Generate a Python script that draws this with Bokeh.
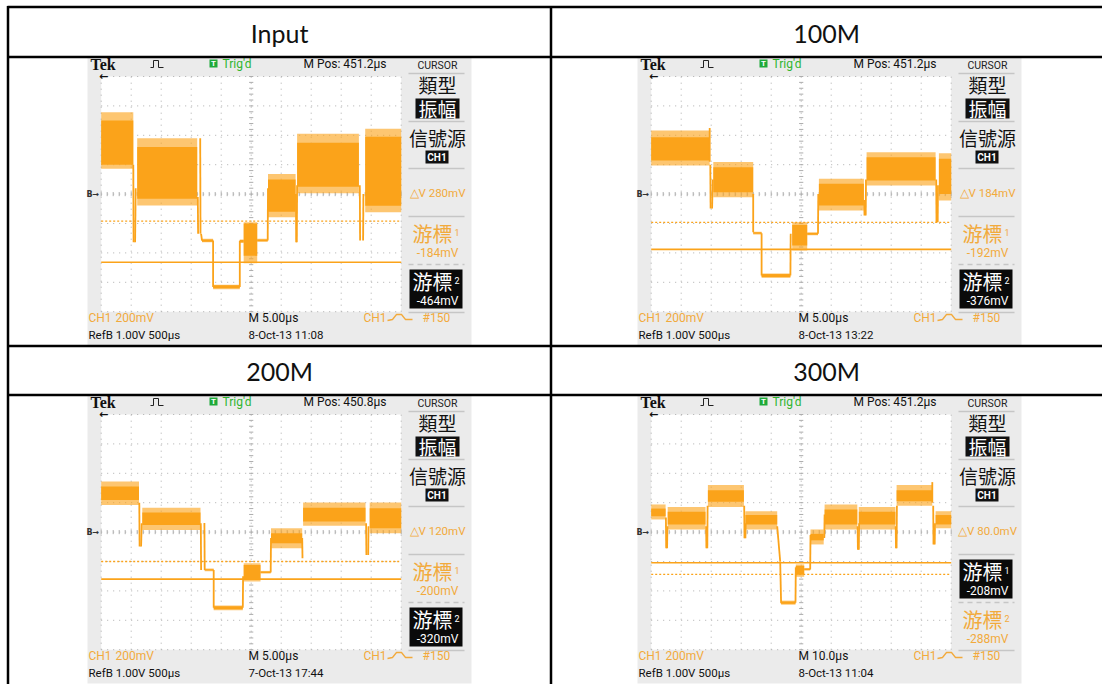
import numpy as np
from bokeh.plotting import figure
from bokeh.models import Range1d
from bokeh.core.properties import value
from bokeh.embed import file_html
from bokeh.resources import INLINE

# ---------------- data ----------------
headers = ["Input", "100M", "200M", "300M"]
m_pos = ["451.2µs", "451.2µs", "450.8µs", "451.2µs"]
delta_v = ["280mV", "184mV", "120mV", "80.0mV"]
cursor1_mv = [-184, -192, -200, -208]
cursor2_mv = [-464, -376, -320, -288]
active_cursor = [2, 2, 2, 1]
ch1_mv_per_div = 200
time_base = ["5.00µs", "5.00µs", "5.00µs", "10.0µs"]
timestamps = ["8-Oct-13 11:08", "8-Oct-13 13:22", "7-Oct-13 17:44", "8-Oct-13 11:04"]
trigger_count = "#150"
ref_info = "RefB 1.00V 500µs"

# waveform bands in graticule divisions:
# (t start, t end, outer low, dense low, dense high, outer high)
input_bands = [
    (0.00, 1.07, 0.86, 1.00, 2.50, 2.78),
    (1.20, 3.20, -0.39, -0.16, 1.60, 1.90),
    (3.36, 3.73, -1.64, -1.62, -1.54, -1.52),
    (3.73, 4.62, -3.24, -3.20, -3.10, -3.08),
    (4.62, 4.75, -1.66, -1.64, -1.56, -1.54),
    (4.75, 5.20, -2.35, -2.10, -1.00, -0.96),
    (5.20, 5.55, -1.62, -1.60, -1.54, -1.52),
    (5.56, 6.48, -0.79, -0.60, 0.50, 0.68),
    (6.53, 8.59, 0.03, 0.25, 1.75, 2.05),
    (8.80, 10.0, -0.62, -0.40, 1.95, 2.22),
]
m100_bands = [
    (0.00, 1.95, 0.97, 1.14, 1.93, 2.16),
    (2.07, 3.40, -0.11, 0.06, 0.91, 1.09),
    (3.40, 3.68, -1.37, -1.35, -1.30, -1.28),
    (3.68, 4.64, -2.85, -2.82, -2.72, -2.70),
    (4.70, 5.20, -1.92, -1.75, -1.05, -0.96),
    (5.20, 5.56, -1.40, -1.38, -1.32, -1.30),
    (5.59, 7.09, -0.56, -0.39, 0.35, 0.52),
    (7.18, 9.48, 0.29, 0.46, 1.25, 1.42),
    (9.59, 10.0, -0.22, 0.00, 1.20, 1.39),
]
m200_bands = [
    (0.00, 1.26, 0.92, 1.09, 1.55, 1.72),
    (1.37, 3.31, 0.07, 0.24, 0.67, 0.83),
    (3.45, 3.75, -1.33, -1.31, -1.26, -1.24),
    (3.75, 4.72, -2.66, -2.62, -2.52, -2.50),
    (4.75, 5.31, -1.68, -1.60, -1.12, -1.06),
    (5.31, 5.65, -1.41, -1.39, -1.34, -1.32),
    (5.66, 6.70, -0.55, -0.38, -0.04, 0.13),
    (6.73, 8.81, 0.22, 0.36, 0.83, 1.01),
    (8.95, 10.0, -0.04, 0.13, 0.81, 1.01),
]
m300_bands = [
    (0.00, 0.48, 0.43, 0.54, 0.80, 0.94),
    (0.55, 1.81, 0.09, 0.26, 0.69, 0.85),
    (1.89, 3.09, 0.85, 1.03, 1.42, 1.60),
    (3.14, 4.20, 0.09, 0.26, 0.58, 0.71),
    (4.33, 4.81, -2.47, -2.44, -2.36, -2.33),
    (4.82, 5.10, -1.52, -1.45, -1.15, -1.10),
    (5.10, 5.30, -1.31, -1.29, -1.24, -1.22),
    (5.31, 5.75, -0.42, -0.28, -0.06, 0.09),
    (5.78, 6.87, 0.09, 0.26, 0.77, 0.94),
    (6.92, 8.14, 0.09, 0.26, 0.69, 0.85),
    (8.18, 9.37, 0.90, 1.05, 1.42, 1.60),
    (9.48, 10.0, 0.13, 0.26, 0.58, 0.71),
]
# transitions and spikes: (t0, v0, t1, v1) in divisions
input_edges = [
    (1.07, 1.0, 1.08, -1.64), (1.13, -1.64, 1.15, 0.2), (3.22, -0.1, 3.23, -1.35),
    (3.30, 1.9, 3.31, -1.35), (3.33, -1.35, 3.36, -1.58), (3.73, -1.58, 3.73, -3.16),
    (4.62, -3.16, 4.62, -1.59), (5.55, -1.58, 5.56, 0.2), (6.49, 0.0, 6.50, -1.64),
    (6.52, -1.64, 6.53, 0.3), (8.62, 0.3, 8.63, -1.58), (8.73, -1.58, 8.74, 0.0),
]
m100_edges = [
    (1.95, 1.1, 1.95, 2.25), (1.97, 1.0, 1.98, -0.49), (2.03, -0.49, 2.05, 0.5),
    (3.40, 0.0, 3.40, -1.30), (3.68, -1.33, 3.68, -2.77), (4.64, -2.77, 4.65, -1.35),
    (5.56, -1.35, 5.57, 0.0), (7.10, -0.2, 7.11, -0.73), (7.15, -0.73, 7.16, 0.5),
    (9.50, 0.5, 9.51, -0.96), (9.55, -0.96, 9.56, 0.3),
]
m200_edges = [
    (1.27, 1.0, 1.28, -0.49), (1.33, -0.49, 1.35, 0.3), (3.32, 0.3, 3.33, -1.29),
    (3.44, 0.31, 3.45, -1.29), (3.75, -1.29, 3.75, -2.57), (4.72, -2.57, 4.73, -1.5),
    (5.65, -1.37, 5.66, -0.2), (6.70, -0.2, 6.71, -0.89), (8.83, 0.3, 8.84, -0.78),
    (8.90, -0.78, 8.91, 0.2),
]
m300_edges = [
    (0.49, 0.5, 0.50, -0.55), (0.53, -0.55, 0.54, 0.2), (1.83, 0.2, 1.84, -0.55),
    (1.87, -0.55, 1.88, 0.9), (3.10, 0.9, 3.11, -0.21), (3.14, -0.21, 3.15, 0.3),
    (4.20, 0.2, 4.30, -1.0), (4.30, -1.0, 4.33, -2.42), (4.81, -2.4, 4.82, -1.2),
    (5.30, -1.27, 5.31, -0.1), (5.77, -0.2, 5.78, 0.6), (6.88, 0.2, 6.89, -0.6),
    (6.92, -0.6, 6.93, 0.3), (8.15, 0.2, 8.16, -0.55), (8.18, -0.55, 8.19, 0.9),
    (9.37, 1.0, 9.37, 1.7), (9.40, 0.9, 9.41, -0.42), (9.45, -0.42, 9.46, 0.3),
]
bands = [input_bands, m100_bands, m200_bands, m300_bands]
edges = [input_edges, m100_edges, m200_edges, m300_edges]

# ---------------- layout / style ----------------
W, H = 1102, 684
X0, Y0 = 0, 0
ORANGE = "#fba31a"
TXT_OR = "#f2aa3c"
GRAY_BG = "#ebebeb"
SCOPE_FONT = "Roboto"
CJK = "Noto Sans CJK TC"
origins = [(87, 57), (637, 57), (87, 395), (637, 395)]
SHOT_W, SHOT_H = 384, 288
GX_OFF, GCY_OFF = 13.7, 136.6
DX, DY = 30.0, 29.4
FS = 12

p = figure(width=W, height=H, x_range=Range1d(X0, X0 + W), y_range=Range1d(Y0 + H, Y0),
           output_backend="svg", toolbar_location=None, min_border=0,
           x_axis_type=None, y_axis_type=None)
p.grid.visible = False
p.outline_line_color = None
p.background_fill_color = "white"
p.border_fill_color = "white"


def T(xs, ys, texts, size, color, font=SCOPE_FONT, align="left", style="normal", **kw):
    p.text(x=list(xs), y=list(ys), text=list(texts), text_font=value(font),
           text_font_size=value(f"{size}px"), text_color=color, text_align=align,
           text_baseline="middle", text_font_style=style, **kw)


for k in range(4):
    ox, oy = origins[k]
    # screenshot background
    p.quad(left=[ox], right=[ox + SHOT_W], top=[oy], bottom=[oy + SHOT_H],
           fill_color=GRAY_BG, line_color=None)

    gx0, gcy = ox + GX_OFF, oy + GCY_OFF
    xr, yr = f"x{k}", f"y{k}"
    p.extra_x_ranges[xr] = Range1d((X0 - gx0) / DX, (X0 + W - gx0) / DX)
    p.extra_y_ranges[yr] = Range1d((gcy - Y0 - H) / DY, (gcy - Y0) / DY)
    kw = dict(x_range_name=xr, y_range_name=yr)

    # graticule
    p.quad(left=[0], right=[10], bottom=[-4], top=[4], fill_color="white", line_color=None, **kw)
    gx = np.arange(0, 11)
    gy = np.arange(-4, 5)
    p.multi_line(xs=[[x, x] for x in gx] + [[0, 10] for _ in gy],
                 ys=[[-4, 4] for _ in gx] + [[y, y] for y in gy],
                 line_color="#adadad", line_width=1, line_dash="1 5", **kw)
    tx = np.arange(0, 10.001, 0.2)
    ty = np.arange(-4, 4.001, 0.2)
    p.segment(x0=np.r_[tx, np.full(len(ty), 4.93)], y0=np.r_[np.full(len(tx), -0.07), ty],
              x1=np.r_[tx, np.full(len(ty), 5.07)], y1=np.r_[np.full(len(tx), 0.07), ty],
              line_color="#adadad", line_width=1, **kw)

    # cursors
    c_act = [cursor1_mv[k], cursor2_mv[k]][active_cursor[k] - 1] / ch1_mv_per_div
    c_in = [cursor1_mv[k], cursor2_mv[k]][2 - active_cursor[k]] / ch1_mv_per_div
    p.segment(x0=[0], y0=[c_act], x1=[10], y1=[c_act], line_color=ORANGE, line_width=1.6, **kw)
    p.segment(x0=[0], y0=[c_in], x1=[10], y1=[c_in], line_color=ORANGE, line_width=1.3,
              line_dash="2 2", **kw)

    # waveform
    b = np.array(bands[k])
    p.quad(left=b[:, 0], right=b[:, 1], bottom=b[:, 2], top=b[:, 5],
           fill_color=ORANGE, fill_alpha=0.62, line_color=None, **kw)
    p.quad(left=b[:, 0], right=b[:, 1], bottom=b[:, 3], top=b[:, 4],
           fill_color=ORANGE, line_color=None, **kw)
    e = np.array(edges[k])
    p.segment(x0=e[:, 0], y0=e[:, 1], x1=e[:, 2], y1=e[:, 3],
              line_color=ORANGE, line_width=1.8, **kw)

    # ---- top status line ----
    T([ox + 3], [oy + 6.5], ["Tek"], 16, "#111111", font="Liberation Serif", style="bold")
    p.line(x=[ox + 63, ox + 66, ox + 66, ox + 71, ox + 71, ox + 76],
           y=[oy + 10, oy + 10, oy + 3, oy + 3, oy + 10, oy + 10], line_color="#222222", line_width=1)
    p.quad(left=[ox + 122], right=[ox + 130], top=[oy + 2], bottom=[oy + 10],
           fill_color="#1faa3a", line_color=None)
    T([ox + 126], [oy + 6.3], ["T"], 8, "white", align="center", style="bold")
    T([ox + 135], [oy + 6.5], ["Trig'd"], FS, "#2fb52f")
    T([ox + 216], [oy + 6.5], [f"M Pos: {m_pos[k]}"], FS, "#111111")
    T([ox + 350], [oy + 7.5], ["CURSOR"], 10.5, "#222222", align="center")
    T([ox + 16], [oy + 19], ["←"], 11, "#111111", font="DejaVu Sans", align="center", style="bold")
    T([ox - 1], [gcy], ["B→"], 8, "#333333", font="DejaVu Sans", style="bold")

    # ---- right menu ----
    seps = [16, 64, 111, 159, 255]
    p.multi_line(xs=[[ox + 321, ox + 377] for _ in seps], ys=[[oy + s, oy + s] for s in seps],
                 line_color="#c6c6c6", line_width=1.5)
    p.segment(x0=[ox + 321], y0=[oy + 207], x1=[ox + 377], y1=[oy + 207],
              line_color="#c6c6c6", line_width=1.5, line_dash="5 4")
    T([ox + 350], [oy + 27], ["類型"], 19, "#111111", font=CJK, align="center")
    p.quad(left=[ox + 328], right=[ox + 372], top=[oy + 41], bottom=[oy + 61],
           fill_color="#111111", line_color=None)
    T([ox + 350], [oy + 51], ["振幅"], 19, "white", font=CJK, align="center")
    T([ox + 350], [oy + 80], ["信號源"], 19, "#111111", font=CJK, align="center")
    p.quad(left=[ox + 338], right=[ox + 361], top=[oy + 93], bottom=[oy + 106],
           fill_color="#111111", line_color=None)
    T([ox + 349.5], [oy + 99.5], ["CH1"], 10, "white", align="center", style="bold")
    T([ox + 350], [oy + 135.5], [f"△V {delta_v[k]}"], 11.5, TXT_OR, align="center")
    for c, mv in ((1, cursor1_mv[k]), (2, cursor2_mv[k])):
        top = 159 + (c - 1) * 48
        col = TXT_OR
        if active_cursor[k] == c:
            p.quad(left=[ox + 322], right=[ox + 375], top=[oy + top + 5], bottom=[oy + top + 44],
                   fill_color="#0a0a0a", line_color=None)
            col = "white"
        T([ox + 345], [oy + top + 17], ["游標"], 20, col, font=CJK, align="center")
        T([ox + 367], [oy + top + 16], [str(c)], 9, col)
        T([ox + 350], [oy + top + 36], [f"{mv}mV"], 12, col, align="center")

    # ---- bottom status lines ----
    T([ox + 1], [oy + 260], ["CH1"], FS, TXT_OR)
    T([ox + 28], [oy + 260], [f"{ch1_mv_per_div}mV"], FS, TXT_OR)
    T([ox + 161], [oy + 260], [f"M {time_base[k]}"], FS, "#111111")
    T([ox + 276], [oy + 260], ["CH1"], FS, TXT_OR)
    p.line(x=[ox + 300, ox + 305, ox + 309, ox + 314, ox + 318, ox + 325],
           y=[oy + 263, oy + 262, oy + 257, oy + 257, oy + 262, oy + 262], line_color=TXT_OR, line_width=1.3)
    T([ox + 335], [oy + 260], [trigger_count], FS, TXT_OR)
    T([ox + 1], [oy + 277], [ref_info], 11.5, "#111111")
    T([ox + 161], [oy + 277], [timestamps[k]], 11.5, "#111111")

# ---------------- table ----------------
hy = [6.5, 56.5, 345.5, 394.5]
p.multi_line(xs=[[7, X0 + W] for _ in hy], ys=[[y, y] for y in hy], line_color="black", line_width=2.5)
p.multi_line(xs=[[7.5, 7.5], [550.5, 550.5]], ys=[[5.5, Y0 + H], [5.5, Y0 + H]],
             line_color="black", line_width=2.5)
T([279, 826, 279, 826], [32, 32, 370, 370], headers, 25, "#111111", font="Lato", align="center")

open("out.html", "w").write(file_html(p, INLINE))
